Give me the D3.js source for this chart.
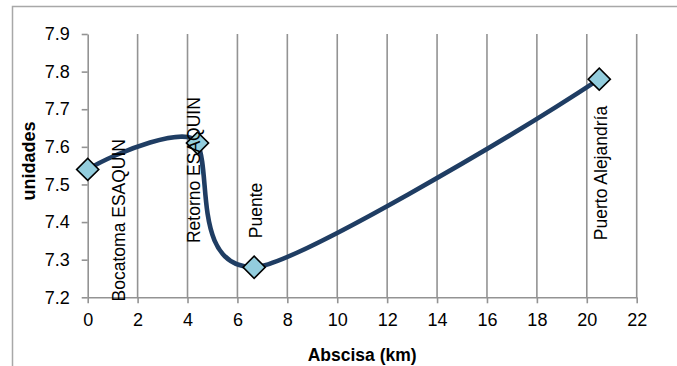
<!DOCTYPE html>
<html>
<head>
<meta charset="utf-8">
<script src="https://cdn.jsdelivr.net/npm/d3@7"></script>
<style>
  html, body { margin: 0; padding: 0; background: #fff; }
  svg { display: block; font-family: "Liberation Sans", Arial, sans-serif; }
</style>
</head>
<body>
<svg id="chart" width="677" height="366"></svg>
<script>
// Sampling stations along the river
const puntos = ["Bocatoma ESAQUIN", "Retorno ESAQUIN", "Puente", "Puerto Alejandría"];
const abscisa = [0, 4.4, 6.67, 20.5];       // km
const valores = [7.54, 7.61, 7.28, 7.78];   // unidades

const xTicks = [0, 2, 4, 6, 8, 10, 12, 14, 16, 18, 20, 22];
const yTicks = [7.2, 7.3, 7.4, 7.5, 7.6, 7.7, 7.8, 7.9];

// Label placement: pixel offset of each rotated label's start from its marker
const labelOffset = [[37, 132], [2, 100], [8, -29], [8, 161]];

// Smoothing: natural-spline tangent directions (uniform parameter); the Bézier
// handle lengths of each segment are scaled by a per-segment strength.
function curveSoftNatural(strength) {
  return function(context) {
    return {
      areaStart() { this._line = 0; },
      areaEnd() { this._line = NaN; },
      lineStart() { this._x = []; this._y = []; },
      point(px, py) { this._x.push(+px); this._y.push(+py); },
      lineEnd() {
        const xs = this._x, ys = this._y, n = xs.length;
        if (!n) return;
        if (this._line) context.lineTo(xs[0], ys[0]); else context.moveTo(xs[0], ys[0]);
        if (n === 2) context.lineTo(xs[1], ys[1]);
        if (n > 2) {
          const dx = tangents(xs), dy = tangents(ys);
          for (let i = 0; i < n - 1; ++i) {
            const k = strength[Math.min(i, strength.length - 1)];
            context.bezierCurveTo(
              xs[i] + k * dx[i] / 3, ys[i] + k * dy[i] / 3,
              xs[i + 1] - k * dx[i + 1] / 3, ys[i + 1] - k * dy[i + 1] / 3,
              xs[i + 1], ys[i + 1]);
          }
        }
        if (this._line || (this._line !== 0 && n === 1)) context.closePath();
        this._line = 1 - this._line;
      }
    };
  };
  // first derivatives of the natural cubic spline (tridiagonal solve)
  function tangents(p) {
    const n = p.length, a = new Array(n), b = new Array(n), c = new Array(n), r = new Array(n);
    a[0] = 0; b[0] = 2; c[0] = 1; r[0] = 3 * (p[1] - p[0]);
    for (let i = 1; i < n - 1; ++i) { a[i] = 1; b[i] = 4; c[i] = 1; r[i] = 3 * (p[i + 1] - p[i - 1]); }
    a[n - 1] = 1; b[n - 1] = 2; c[n - 1] = 0; r[n - 1] = 3 * (p[n - 1] - p[n - 2]);
    for (let i = 1; i < n; ++i) {
      const m = a[i] / b[i - 1];
      b[i] -= m * c[i - 1];
      r[i] -= m * r[i - 1];
    }
    const d = new Array(n);
    d[n - 1] = r[n - 1] / b[n - 1];
    for (let i = n - 2; i >= 0; --i) d[i] = (r[i] - c[i] * d[i + 1]) / b[i];
    return d;
  }
}

const svg = d3.select("#chart");
const W = 677, H = 366;
const plot = { left: 87.7, right: 636.7, top: 34, bottom: 297.3 };

const x = d3.scaleLinear().domain([0, 22]).range([plot.left, plot.right]);
const y = d3.scaleLinear().domain([7.2, 7.9]).range([plot.bottom, plot.top]);

const gridColor = "#939393";

// chart area border
svg.append("rect")
  .attr("x", 12.5).attr("y", 6.5)
  .attr("width", W + 20).attr("height", H + 20)
  .attr("fill", "none").attr("stroke", "#a8a8a8").attr("stroke-width", 1.5);

// vertical gridlines
svg.append("g")
  .selectAll("line")
  .data(xTicks.filter(t => t > 0))
  .join("line")
  .attr("x1", d => x(d)).attr("x2", d => x(d))
  .attr("y1", plot.top).attr("y2", plot.bottom)
  .attr("stroke", gridColor).attr("stroke-width", 1.6);

// x axis
const xAxis = svg.append("g")
  .attr("transform", `translate(0,${plot.bottom})`)
  .call(d3.axisBottom(x).tickValues(xTicks).tickFormat(d3.format("d"))
    .tickSizeInner(6).tickSizeOuter(0).tickPadding(10));

// y axis
const yAxis = svg.append("g")
  .attr("transform", `translate(${plot.left},0)`)
  .call(d3.axisLeft(y).tickValues(yTicks).tickFormat(d3.format(".1f"))
    .tickSizeInner(6).tickSizeOuter(0).tickPadding(12));

[xAxis, yAxis].forEach(g => {
  g.select(".domain").attr("stroke", gridColor).attr("stroke-width", 1.6);
  g.selectAll(".tick line").attr("stroke", gridColor).attr("stroke-width", 1.6);
  g.selectAll(".tick text")
    .attr("fill", "#000")
    .style("font-family", "'Liberation Sans', Arial, sans-serif")
    .style("font-size", "18px");
});

// axis titles
svg.append("text")
  .attr("x", (plot.left + plot.right) / 2).attr("y", 361)
  .attr("text-anchor", "middle")
  .style("font-size", "17.5px").style("font-weight", "bold")
  .text("Abscisa (km)");

svg.append("text")
  .attr("transform", `translate(35,${161}) rotate(-90)`)
  .attr("text-anchor", "middle")
  .style("font-size", "18px").style("font-weight", "bold")
  .text("unidades");

const data = abscisa.map((a, i) => ({ km: a, v: valores[i], name: puntos[i], off: labelOffset[i] }));

// smoothed series line
const line = d3.line()
  .x(d => x(d.km))
  .y(d => y(d.v))
  .curve(curveSoftNatural([0.6, 1, 0.6]));

svg.append("path")
  .datum(data)
  .attr("d", line)
  .attr("fill", "none")
  .attr("stroke", "#1f3d63")
  .attr("stroke-width", 4.6)
  .attr("stroke-linecap", "round");

// diamond markers
const diamond = d3.symbol().type(d3.symbolSquare).size(245);
svg.append("g")
  .selectAll("path")
  .data(data)
  .join("path")
  .attr("transform", d => `translate(${x(d.km)},${y(d.v)}) rotate(45)`)
  .attr("d", diamond)
  .attr("fill", "#93cddd")
  .attr("stroke", "#000")
  .attr("stroke-width", 1.6);

// station labels
svg.append("g")
  .selectAll("text")
  .data(data)
  .join("text")
  .attr("transform", d => `translate(${x(d.km) + d.off[0]},${y(d.v) + d.off[1]}) rotate(-90)`)
  .attr("text-anchor", "start")
  .style("font-size", "17.5px")
  .attr("fill", "#000")
  .text(d => d.name);
</script>
</body>
</html>
